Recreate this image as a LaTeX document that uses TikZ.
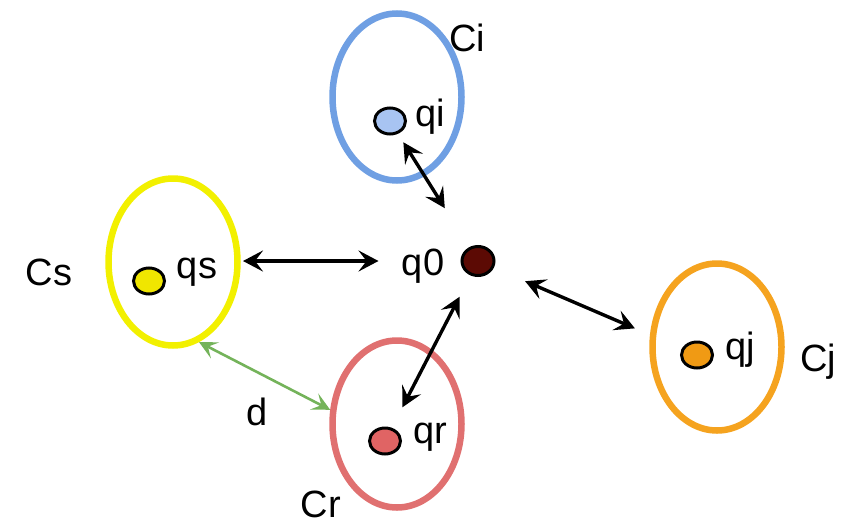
\documentclass[tikz,border=0pt]{standalone}
\usepackage{fontspec}
\setmainfont{Liberation Sans}
\usetikzlibrary{shapes.geometric,arrows.meta}

\definecolor{cblue}{HTML}{6F9FE3}
\definecolor{cbluefill}{HTML}{A8C4F2}
\definecolor{cyellow}{HTML}{F2F000}
\definecolor{cyellowfill}{HTML}{F0E600}
\definecolor{cred}{HTML}{E07070}
\definecolor{credfill}{HTML}{E06464}
\definecolor{corange}{HTML}{F5A31F}
\definecolor{corangefill}{HTML}{F09A14}
\definecolor{cdark}{HTML}{5C0A04}
\definecolor{cgreen}{HTML}{74B35A}

\tikzset{
  cluster/.style={ellipse, draw=#1, line width=6.5pt, minimum width=129pt, minimum height=167pt, inner sep=0pt},
  point/.style={ellipse, draw=black, line width=3pt, fill=#1, minimum width=31pt, minimum height=26pt, inner sep=0pt},
  lbl/.style={inner sep=0pt, font=\fontsize{38}{44}\selectfont},
  link/.style={line width=3.4pt, {Stealth[length=20pt,width=21pt,inset=8pt]}-{Stealth[length=20pt,width=21pt,inset=8pt]}},
  dlink/.style={draw=cgreen, line width=2.6pt, {Stealth[length=18pt,width=18pt,inset=8pt]}-{Stealth[length=18pt,width=18pt,inset=8pt]}}
}

\begin{document}
\begin{tikzpicture}[x=1pt,y=-1pt]
\useasboundingbox (0,0) rectangle (856,525);

% clusters
\node[cluster=cblue]   (Ci) at (397,97)  {};
\node[cluster=cyellow] (Cs) at (173,262) {};
\node[cluster=cred]    (Cr) at (397,424) {};
\node[cluster=corange] (Cj) at (717,347) {};

% cluster representatives
\node[point=cbluefill]   (qi) at (390,121) {};
\node[point=cyellowfill] (qs) at (149,281) {};
\node[point=cdark, minimum width=32pt, minimum height=29pt] (q0) at (478,261) {};
\node[point=credfill]    (qr) at (385,441) {};
\node[point=corangefill] (qj) at (697,355) {};

% labels
\node[lbl] (lCi) at (467,38)  {Ci};
\node[lbl] (lqi) at (430,117) {qi};
\node[lbl] (lCs) at (49,272)  {Cs};
\node[lbl] (lqs) at (197,272) {qs};
\node[lbl] (lq0) at (423,266) {q0};
\node[lbl] (lqr) at (430,437) {qr};
\node[lbl] (lCr) at (321,504) {Cr};
\node[lbl] (ld)  at (257,412) {d};
\node[lbl] (lqj) at (740,350) {qj};
\node[lbl] (lCj) at (818,362) {Cj};

% links to q0
\draw[link, shorten <=10pt, shorten >=46pt] (qi) -- (q0);
\draw[link] ([xshift=77pt]qs.east |- q0) -- ([xshift=-82pt]q0.west);
\draw[link, shorten <=24pt, shorten >=23pt] (q0) -- (qr);
\draw[link, shorten <=34pt, shorten >=51pt] (q0) -- (qj);

% distance between clusters
\draw[dlink] (Cs.-72) -- (Cr.168);
\end{tikzpicture}
\end{document}
